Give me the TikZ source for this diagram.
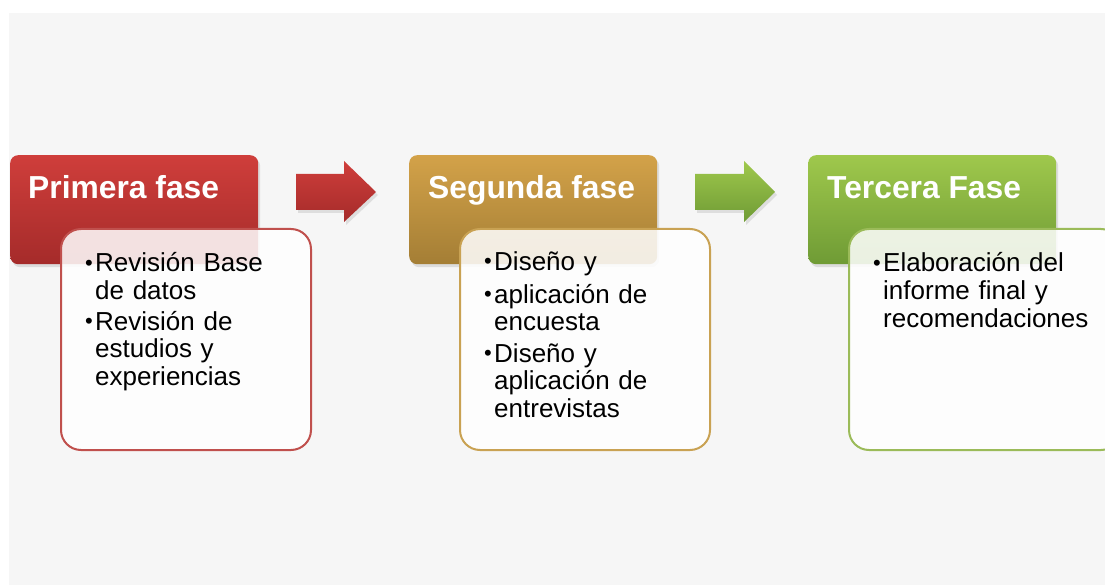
\documentclass[tikz,border=0pt]{standalone}
\usepackage{fontspec}
\setmainfont{Liberation Sans}
\usetikzlibrary{shadows}
\definecolor{bg}{HTML}{F6F6F6}
\definecolor{redT}{HTML}{CF3E3B}
\definecolor{redB}{HTML}{A52B2A}
\definecolor{redL}{HTML}{C0504D}
\definecolor{goldT}{HTML}{D3A249}
\definecolor{goldB}{HTML}{A47E35}
\definecolor{goldL}{HTML}{C9A253}
\definecolor{grnT}{HTML}{9FC84C}
\definecolor{grnB}{HTML}{6F9B35}
\definecolor{grnL}{HTML}{9BBB59}
\begin{document}
\begin{tikzpicture}[x=1pt,y=-1pt,
  header/.style={rounded corners=8pt, inner sep=0pt, anchor=north west,
    minimum width=248pt, minimum height=109pt,
    drop shadow={shadow xshift=2pt, shadow yshift=-3pt, opacity=0.22}},
  htext/.style={anchor=base west, inner sep=0pt, text=white,
    font=\fontsize{31.8}{36}\selectfont\bfseries},
  body/.style={rounded corners=20pt, inner sep=0pt, anchor=north west,
    minimum height=221pt, line width=2pt, fill=white, fill opacity=0.86},
  item/.style={anchor=base west, inner sep=0pt, text width=210pt, align=left,
    font=\fontsize{26}{27.5}\selectfont},
  bul/.style={anchor=base east, inner sep=0pt, font=\fontsize{22}{24}\selectfont},
  blockarrow/.style={drop shadow={shadow xshift=2pt, shadow yshift=-3pt, opacity=0.2}}
]
\useasboundingbox (0,0) rectangle (1105,585);
\fill[white] (0,0) rectangle (1105,585);
\fill[bg] (9,13) rectangle (1105,585);

% arrows
\path[blockarrow, top color=redT, bottom color=redB]
  (296,174) -- (344,174) -- (344,161) -- (376,192) -- (344,222) -- (344,210) -- (296,210) -- cycle;
\path[blockarrow, top color=grnT, bottom color=grnB]
  (695,174) -- (744,174) -- (744,161) -- (775,192) -- (744,222) -- (744,210) -- (695,210) -- cycle;

% phase 1
\node[header, top color=redT, bottom color=redB] (h1) at (10,155) {};
\node[htext] (t1) at (28,199) {Primera fase};
\node[body, draw=redL, minimum width=250pt] (b1) at (60,228) {};
\node[bul] (p11) at (93,270) {•};
\node[item] (i11) at (95,272) {Revisión Base\\de datos};
\node[bul] (p12) at (93,328) {•};
\node[item] (i12) at (95,330) {Revisión de\\estudios y\\experiencias};

% phase 2
\node[header, top color=goldT, bottom color=goldB] (h2) at (409,155) {};
\node[htext] (t2) at (428,199) {Segunda fase};
\node[body, draw=goldL, minimum width=250pt] (b2) at (459,228) {};
\node[bul] (p21) at (492,269) {•};
\node[item] (i21) at (494,271) {Diseño y};
\node[bul] (p22) at (492,301) {•};
\node[item] (i22) at (494,303) {aplicación de\\encuesta};
\node[bul] (p23) at (492,360) {•};
\node[item] (i23) at (494,362) {Diseño y\\aplicación de\\entrevistas};

% phase 3
\node[header, top color=grnT, bottom color=grnB] (h3) at (808,155) {};
\node[htext] (t3) at (827,199) {Tercera Fase};
\node[body, draw=grnL, minimum width=272pt] (b3) at (848,228) {};
\node[bul] (p31) at (881,270) {•};
\node[item] (i31) at (883,272) {Elaboración del\\informe final y\\recomendaciones};
\end{tikzpicture}
\end{document}
